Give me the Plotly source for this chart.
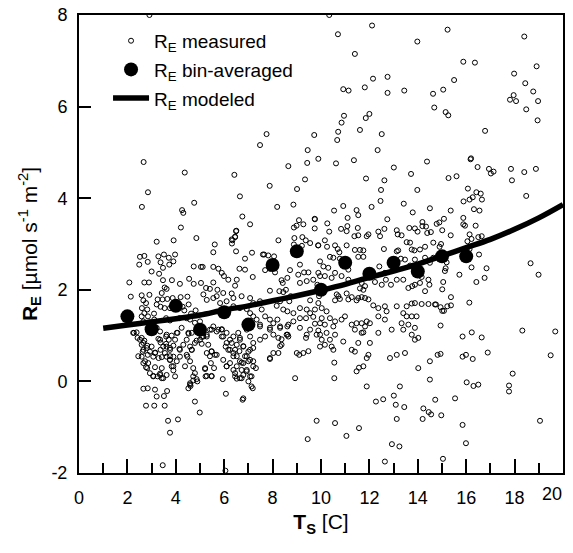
import plotly.graph_objects as go

# ---------------- data ----------------
# measured respiration: (soil temperature [C], R_E [umol s-1 m-2])
meas_top = [
    (10.34, 8.0), (10.70, 7.58), (12.11, 7.77), (15.23, 7.68), (18.40, 7.53), (13.98, 7.42), (11.40, 7.15),
    (15.88, 6.98), (16.36, 6.96), (18.91, 6.88), (17.98, 6.72), (12.15, 6.61), (12.75, 6.65), (15.50, 6.58),
    (18.44, 6.51), (10.92, 6.38), (11.14, 6.35), (11.81, 6.42), (12.75, 6.30), (13.44, 6.35), (14.63, 6.28),
    (15.05, 6.37), (18.77, 6.33), (17.96, 6.25), (17.81, 6.15), (18.06, 6.12), (18.97, 6.12), (14.68, 5.98),
    (15.15, 5.88), (15.26, 5.81), (18.48, 5.94), (18.95, 5.70), (10.95, 5.80), (10.85, 5.65), (12.0, 5.84),
    (11.85, 5.75), (11.61, 5.49), (12.51, 5.40), (10.71, 5.45), (9.72, 5.38), (16.78, 5.47), (2.91, 8.0),
    (7.75, 5.40), (16.2, 4.87), (10.67, 5.27), (10.62, 4.76), (11.36, 4.83), (12.34, 5.05), (13.01, 4.67),
    (14.38, 4.80),
]
meas_upper_left = [
    (7.48, 5.16), (9.45, 5.05), (9.89, 4.86), (9.43, 4.77), (8.65, 4.70), (2.67, 4.79), (4.37, 4.56),
    (6.42, 4.51), (9.34, 4.41), (7.88, 4.27), (9.01, 4.20), (2.85, 4.13), (6.65, 4.04), (2.60, 3.81),
    (4.76, 3.90), (4.26, 3.74), (4.31, 3.68), (8.19, 3.81), (8.86, 3.86), (6.75, 3.60), (4.21, 3.36),
    (7.07, 3.43), (6.50, 3.29), (9.09, 3.52), (9.27, 3.43), (8.99, 3.40), (8.88, 3.36), (9.74, 3.55),
    (9.74, 3.34), (3.21, 3.05), (3.91, 3.08), (4.85, 3.13), (5.61, 2.99), (6.31, 3.10), (6.45, 3.15),
    (6.32, 3.01), (6.49, 2.84), (5.55, 2.82), (8.24, 3.08), (8.90, 3.13), (9.23, 3.15), (9.37, 3.08),
    (9.55, 3.02), (9.88, 2.97), (9.21, 2.96), (8.88, 2.99), (7.15, 2.81), (3.51, 2.77), (3.97, 2.77),
    (7.6, 2.77), (7.65, 2.77), (6.49, 3.28), (6.45, 3.16), (6.34, 3.08),
]
meas_left_dense = [
    (2.52, 2.72), (2.70, 2.74), (2.49, 2.55), (2.84, 2.61), (3.28, 2.73), (3.71, 2.70), (3.37, 2.60),
    (3.90, 2.62), (3.73, 2.55), (3.0, 2.40), (3.31, 2.35), (3.47, 2.48), (4.74, 2.51), (5.04, 2.50),
    (2.08, 2.16), (2.70, 2.16), (2.89, 2.16), (3.47, 2.21), (3.84, 2.21), (4.17, 2.13), (4.55, 2.24),
    (4.74, 2.13), (5.04, 2.15), (3.54, 2.05), (3.62, 2.02), (3.42, 1.93), (2.14, 1.85), (2.59, 1.88),
    (2.91, 1.89), (2.66, 1.77), (2.77, 1.71), (4.20, 1.84), (3.25, 1.79), (3.45, 1.79), (3.65, 1.80),
    (3.87, 1.82), (4.48, 1.85), (3.21, 1.68), (3.37, 1.63), (3.54, 1.60), (3.76, 1.60), (4.04, 1.68),
    (4.28, 1.63), (4.53, 1.68), (4.35, 1.55), (4.82, 1.55), (4.63, 1.48), (4.15, 1.38), (4.45, 1.38),
    (4.59, 1.35), (2.60, 1.60), (2.82, 1.57), (2.70, 1.49), (2.59, 1.42), (2.85, 1.42), (2.66, 1.31),
    (2.93, 1.29), (3.10, 1.48), (3.11, 1.35), (3.60, 1.38), (3.76, 1.33), (2.24, 1.06), (2.38, 1.07),
    (3.60, 0.98), (3.83, 1.00), (4.07, 1.06), (4.53, 1.04), (2.59, 0.95), (2.70, 0.89), (2.59, 0.80),
    (2.82, 0.78), (2.66, 0.69), (2.93, 0.65), (2.59, 0.54), (2.84, 0.58), (3.07, 0.54), (3.28, 0.93),
    (3.37, 0.85), (3.48, 0.76), (3.60, 0.82), (3.71, 0.91), (3.37, 0.69), (3.55, 0.62), (3.76, 0.73),
    (3.90, 0.78), (4.15, 0.71), (4.31, 0.80), (4.59, 0.76), (4.66, 0.69), (4.48, 0.54), (4.17, 0.54),
    (3.90, 0.54), (3.76, 0.47), (3.62, 0.54), (3.42, 0.53), (3.15, 0.63), (2.66, 0.40), (2.86, 0.40),
    (2.77, 0.31), (3.14, 0.31), (3.35, 0.17), (3.25, 0.11), (3.07, 0.12), (3.42, 0.07), (3.62, 0.14),
    (3.83, 0.33), (3.90, 0.24), (3.97, 0.11), (4.59, -0.04), (4.72, 0.02), (4.86, 0.05), (4.79, 1.28),
    (5.0, 1.31), (5.07, 0.97), (4.86, 0.89), (5.07, 0.82), (4.66, 1.06),
]
meas_low_left = [
    (2.66, -0.16), (2.84, -0.15), (3.14, -0.18), (3.21, -0.33), (3.51, -0.32), (3.64, -0.21), (2.77, -0.53),
    (3.11, -0.53), (3.54, -0.53), (3.68, -0.86), (4.09, -0.83), (3.76, -1.12), (3.46, -1.83), (4.52, -0.15),
    (4.61, -0.10), (4.79, -0.44), (4.99, -0.68), (6.76, -0.40), (6.05, -1.95),
    (5.23, 0.11), (5.48, 0.11), (5.58, 0.29), (5.45, 0.40), (5.21, 0.27), (5.28, 0.62), (5.48, 0.65),
    (5.69, 0.58), (5.96, 0.47), (6.10, 0.33), (6.24, 0.40), (6.38, 0.25), (6.45, 0.18), (6.52, 0.06),
    (6.65, 0.07), (6.79, 0.14), (6.93, 0.25), (7.13, 0.11), (7.18, -0.15), (7.0, 0.0), (7.07, 0.47),
    (7.20, 0.44), (7.31, 0.29), (6.72, 0.41), (6.52, 0.55), (6.38, 0.62), (6.17, 0.69), (6.06, 0.76),
    (6.31, 0.84), (6.65, 0.95), (6.79, 0.76), (7.0, 0.65), (7.20, 0.73), (7.48, 0.91), (7.69, 0.98),
    (7.89, 1.17), (8.03, 1.02), (8.31, 1.20), (8.24, 0.95), (8.37, 0.80), (8.03, 0.62), (7.89, 0.49),
    (8.62, 1.02), (8.65, 1.24), (7.48, 1.20), (4.72, 0.11), (4.79, 0.18), (4.72, 0.29), (4.89, 0.0),
    (4.59, -0.07), (4.38, 0.33), (4.59, 0.44), (4.45, 0.58), (4.66, 0.69), (4.79, 0.84), (4.45, 0.91),
    (4.52, 1.06), (4.17, 0.69), (4.04, 0.44), (3.90, 0.33), (3.76, 0.55), (3.76, 0.69), (3.97, 0.91),
    (4.04, 1.06), (4.24, 1.17), (5.0, 0.91), (5.14, 1.06), (5.28, 1.02), (5.48, 1.13), (5.69, 1.09),
    (5.90, 0.98), (5.90, 1.14), (6.10, 1.06), (6.24, 0.91), (2.45, 0.55), (2.63, 0.65), (2.80, 0.73),
    (2.66, 0.84), (2.52, 0.91), (2.27, 1.06), (2.42, 0.95), (2.73, 0.44), (2.82, 0.29), (2.93, 0.18),
    (3.07, 0.11), (3.35, 0.14), (3.48, 0.07), (3.42, 0.29), (3.76, 0.47), (3.29, 0.51), (3.14, 0.62),
    (3.0, 0.76), (3.35, 0.91), (3.62, 0.76), (3.62, 1.02), (3.35, 1.09), (3.21, 1.17),
]
meas_mid = [
    (6.86, 2.68), (7.82, 2.75), (8.06, 2.73), (7.69, 2.43), (8.10, 2.38), (7.89, 2.46), (8.72, 2.43),
    (8.61, 2.26), (8.37, 2.21), (8.42, 2.15), (9.13, 2.55), (9.06, 2.33), (9.30, 2.38), (9.48, 2.38),
    (9.41, 2.19), (9.13, 2.15), (9.68, 2.22), (9.85, 2.11), (9.96, 2.30), (5.11, 2.50), (5.55, 2.50),
    (5.76, 2.46), (5.90, 2.37), (5.99, 2.30), (5.55, 2.16), (6.17, 2.22), (6.52, 2.22), (6.45, 2.09),
    (6.63, 2.46), (6.86, 2.44), (7.18, 2.28), (7.89, 1.98), (8.28, 1.97), (8.44, 1.95), (8.55, 2.0),
    (8.75, 1.86), (8.69, 1.75), (8.31, 1.75), (8.17, 1.65), (8.44, 1.57), (8.61, 1.53), (8.86, 1.49),
    (9.13, 1.60), (9.41, 1.57), (9.55, 1.49), (9.75, 1.57), (9.68, 1.41), (9.38, 1.38), (9.13, 1.38),
    (9.55, 1.77), (9.75, 1.26), (9.89, 1.11), (9.82, 1.02), (9.55, 1.13), (9.13, 1.17), (8.61, 1.20),
    (8.31, 1.17), (7.89, 1.13), (7.48, 1.24), (7.34, 1.35), (7.20, 1.42), (7.07, 1.49), (6.93, 1.58),
    (6.65, 1.60), (6.38, 1.64), (6.10, 1.75), (5.83, 1.71), (5.69, 1.86), (5.55, 1.82), (5.28, 1.78),
    (5.14, 1.90), (5.25, 2.04), (5.41, 2.02), (5.72, 2.0), (5.96, 1.93), (6.31, 1.92), (6.38, 1.82),
    (6.72, 1.86), (7.07, 1.82), (7.20, 1.71), (7.48, 1.75), (7.55, 1.57), (7.69, 1.42), (7.89, 1.35),
    (8.03, 1.27), (8.20, 1.35), (8.86, 1.31), (8.65, 0.98), (8.37, 0.92), (8.31, 0.77), (8.24, 0.62),
    (7.89, 0.51), (9.41, 1.02), (9.38, 0.95), (9.10, 0.58), (9.27, 0.62), (9.48, 0.66), (8.93, 0.07),
    (6.93, 1.13), (7.07, 0.98), (7.20, 0.84), (7.07, 0.69), (6.93, 0.55), (6.79, 0.40), (6.72, 0.25),
    (6.93, 0.22), (7.07, 0.11), (6.72, 0.07), (6.52, 0.33), (6.38, 0.55), (6.24, 0.69), (6.10, 0.84),
    (5.96, 0.98), (5.90, 1.13), (5.76, 1.13), (5.55, 1.20), (5.41, 1.13), (5.28, 0.98), (5.14, 0.98),
    (5.07, 1.13), (5.34, 0.80), (5.48, 0.66), (5.62, 0.58), (5.41, 0.55), (5.21, 0.29), (5.28, 0.12),
    (5.48, 0.12), (5.94, 0.05), (6.10, 0.33), (6.45, 0.11), (6.07, -0.27), (6.79, -0.37), (7.13, -0.11),
    (6.38, 0.98), (6.58, 1.06), (6.65, 0.91), (6.52, 0.80), (6.79, 0.77), (6.63, 0.66), (6.45, 0.69),
    (6.86, 0.55), (6.65, 0.44), (7.0, 0.44), (7.20, 0.33),
]
meas_center = [
    (11.86, 4.43), (12.62, 4.39), (13.72, 4.53), (12.48, 4.18), (13.98, 4.18), (12.46, 3.94), (13.42, 3.88),
    (12.09, 3.81), (10.92, 3.83), (10.54, 3.73), (11.47, 3.74), (11.54, 3.63), (11.10, 3.57), (12.74, 3.54),
    (13.79, 3.69), (14.50, 3.78), (9.75, 3.54), (10.26, 3.45), (10.83, 3.33), (11.09, 3.39), (11.52, 3.35),
    (11.06, 3.28), (10.34, 3.27), (11.38, 3.17), (11.54, 3.19), (11.89, 3.17), (11.96, 3.21), (12.37, 3.27),
    (12.44, 3.17), (12.62, 3.33), (13.13, 3.30), (13.17, 3.21), (13.33, 3.19), (13.65, 3.35), (13.88, 3.34),
    (13.99, 3.27), (14.19, 3.48), (14.19, 3.39), (14.34, 3.38), (14.39, 3.24), (14.54, 3.26), (14.78, 3.44),
    (10.16, 3.08), (9.89, 2.97), (10.25, 2.94), (10.58, 2.97), (10.69, 2.89), (10.76, 2.82), (11.06, 2.97),
    (11.40, 2.87), (11.61, 2.87), (11.75, 2.86), (12.60, 2.89), (13.13, 2.84), (13.19, 2.86), (13.54, 3.04),
    (13.68, 3.03), (13.75, 2.88), (13.86, 2.86), (14.09, 2.88), (14.30, 2.94), (14.64, 3.03), (10.37, 2.72),
    (10.51, 2.70), (10.78, 2.68), (9.96, 2.62), (10.10, 2.51), (10.30, 2.48), (9.89, 2.37), (10.16, 2.30),
    (10.44, 2.26), (10.58, 2.37), (10.85, 2.30), (11.13, 2.44), (11.13, 2.22), (11.54, 2.72), (11.75, 2.72),
    (12.41, 2.51), (12.64, 2.37), (12.68, 2.22), (13.06, 2.44), (13.30, 2.68), (13.47, 2.66), (13.68, 2.53),
    (13.88, 2.66), (14.30, 2.70), (14.50, 2.59), (14.64, 2.70), (11.96, 2.30), (11.68, 2.15), (11.82, 2.08),
    (11.75, 2.00), (11.61, 2.03), (12.23, 2.17), (12.51, 2.11), (12.89, 2.11), (13.13, 2.22), (13.40, 2.22),
    (13.61, 2.04), (13.77, 2.08), (13.88, 2.11), (14.16, 2.28), (14.44, 2.22), (14.48, 2.11), (14.30, 1.97),
    (14.09, 2.15), (9.92, 1.86), (10.65, 1.90), (10.72, 1.86), (10.78, 1.80), (10.58, 1.77), (11.06, 1.92),
    (11.13, 1.79), (11.27, 1.84), (11.47, 1.77), (11.54, 1.82), (11.68, 1.84), (11.82, 1.82), (11.96, 1.79),
    (12.16, 1.66), (12.37, 1.60), (12.64, 1.64), (13.13, 1.64), (13.54, 1.64), (13.75, 1.70), (13.88, 1.71),
    (14.16, 1.69), (14.44, 1.69), (14.71, 1.68), (9.89, 1.71), (10.03, 1.60), (10.23, 1.53), (10.37, 1.38),
    (10.03, 1.38), (9.96, 1.27), (10.16, 1.24), (10.58, 1.31), (10.51, 1.20), (10.99, 1.42), (10.85, 1.35),
    (11.27, 1.24), (11.47, 1.27), (11.68, 1.27), (11.82, 1.20), (11.89, 1.31), (12.02, 1.27), (11.40, 1.13),
    (11.68, 1.06), (11.75, 1.07), (12.37, 1.42), (12.71, 1.53), (12.64, 1.35), (13.40, 1.49), (13.54, 1.42),
    (13.75, 1.42), (13.95, 1.42), (13.33, 1.27), (13.61, 1.24), (13.88, 1.17), (13.75, 1.02), (13.88, 0.91),
    (14.02, 0.95), (13.40, 1.13), (12.92, 1.13), (12.37, 1.06), (12.02, 0.84), (11.54, 0.84), (11.27, 0.69),
    (11.40, 0.65), (10.92, 0.87), (10.44, 0.76), (10.37, 0.91), (10.58, 1.02), (10.23, 1.06), (9.96, 1.02),
    (10.03, 0.91), (9.96, 0.76), (10.16, 0.80), (10.51, 0.69), (13.47, 0.62), (13.13, 0.58), (12.85, 0.51),
    (11.96, 0.58), (11.89, 0.51), (11.75, 0.33), (11.47, 0.22), (14.50, 0.44), (14.02, 0.29), (10.55, 0.41),
    (10.55, 0.07), (11.89, -0.11), (13.26, -0.11), (13.01, -0.31), (12.57, -0.39), (14.50, 0.04), (14.82, 0.58),
]
meas_low_right = [
    (9.45, -1.26), (9.82, -0.86), (10.58, -0.91), (11.05, -1.19), (11.57, -1.02), (11.57, 0.30), (12.27, -0.44),
    (12.64, -1.75), (12.93, -1.37), (13.24, -1.42), (13.09, -0.51), (13.44, -0.56), (13.13, -0.82),
    (14.23, -0.59), (14.20, -0.82), (14.45, -0.67), (14.55, -0.72), (14.97, -0.74), (14.72, -0.40),
    (15.04, -1.69), (14.94, 0.60), (15.54, -0.37), (15.85, 0.98), (16.23, 1.07), (16.64, 0.96), (15.85, 0.54),
    (15.99, 0.58), (16.27, 0.49), (16.89, 0.63), (16.02, -0.02), (16.30, -0.10), (16.50, -0.07), (15.85, -0.95),
    (15.99, -1.35), (17.92, 0.17), (17.77, -0.09), (17.77, -0.22), (18.32, 1.11), (19.05, -0.86), (19.49, 0.57),
    (19.68, 1.09), (8.58, 1.02), (9.0, 0.62), (14.94, 1.22),
]
meas_right = [
    (16.18, 4.85), (16.47, 4.68), (16.94, 4.64), (17.02, 4.54), (17.13, 4.58), (17.85, 4.64), (17.89, 4.39),
    (18.40, 4.57), (18.88, 4.64), (15.27, 4.44), (15.60, 4.48), (16.07, 4.21), (16.42, 4.13), (16.60, 4.10),
    (16.65, 3.97), (16.27, 4.02), (16.14, 3.97), (15.89, 3.93), (18.48, 4.05), (15.36, 3.73), (16.32, 3.76),
    (16.55, 3.73), (15.08, 3.55), (14.89, 3.47), (15.88, 3.57), (15.88, 3.43), (15.95, 3.40), (16.39, 3.40),
    (15.01, 3.30), (15.36, 3.19), (16.14, 3.21), (16.50, 3.15), (16.64, 3.17), (16.22, 3.11), (16.05, 3.06),
    (14.96, 3.00), (14.90, 2.94), (16.05, 2.92), (16.14, 2.89), (16.53, 2.77), (15.19, 2.60), (15.15, 2.47),
    (15.12, 2.41), (16.22, 2.49), (16.84, 2.47), (16.76, 2.26), (16.42, 2.17), (15.72, 2.33), (18.66, 2.58),
    (18.99, 2.33), (15.05, 2.17), (15.01, 2.01), (15.37, 1.84), (14.75, 1.68), (14.94, 1.62), (15.01, 1.54),
    (15.08, 1.54), (15.22, 1.64), (15.37, 1.66), (16.13, 1.72),
]

# bin-averaged values
bin_T = [2, 3, 4, 5, 6, 7, 8, 9, 10, 11, 12, 13, 14, 15, 16]
bin_R = [1.42, 1.14, 1.65, 1.13, 1.51, 1.24, 2.54, 2.84, 2.00, 2.59, 2.35, 2.59, 2.40, 2.73, 2.73]

# modeled curve
model_T = [1, 2, 3, 4, 5, 6, 7, 8, 9, 10, 11, 12, 13, 14, 15, 16, 17, 18, 19, 20]
model_R = [1.16, 1.23, 1.30, 1.37, 1.45, 1.56, 1.65, 1.76, 1.87, 1.99, 2.12, 2.27, 2.41, 2.56, 2.74,
           2.92, 3.10, 3.32, 3.57, 3.86]

# axis ticks
x_ticks = [0, 2, 4, 6, 8, 10, 12, 14, 16, 18, 20]
x_ticktext = ["0", "2", "4", "6", "8", "10", "12", "14", "16", "18", ""]
x_last_label = "20"
y_ticks = [-2, 0, 2, 4, 6, 8]
y_ticktext = ["-2", "0", "2", "4", "6", "8"]

# ---------------- figure ----------------
measured = (meas_top + meas_upper_left + meas_left_dense + meas_low_left + meas_mid
            + meas_center + meas_low_right + meas_right)
meas_T = [p[0] for p in measured]
meas_R = [p[1] for p in measured]

FONT = "Arial, 'Liberation Sans', Helvetica, sans-serif"

fig = go.Figure()
fig.add_trace(go.Scatter(
    x=meas_T, y=meas_R, mode="markers", name="R<sub>E</sub> measured",
    legendgroup="a", legendrank=1,
    marker=dict(symbol="circle-open", size=5, color="black", line=dict(width=1, color="black")),
))
fig.add_trace(go.Scatter(
    x=model_T, y=model_R, mode="lines", name="R<sub>E</sub> modeled",
    legendgroup="c", legendrank=3, line=dict(color="black", width=5.5, shape="spline"),
))
fig.add_trace(go.Scatter(
    x=bin_T, y=bin_R, mode="markers", name="R<sub>E</sub> bin-averaged",
    legendgroup="b", legendrank=2,
    marker=dict(symbol="circle", size=14, color="black"),
))

axis_common = dict(
    showline=True, linecolor="black", linewidth=2, mirror=True, automargin=False,
    showgrid=False, zeroline=False, ticks="inside", tickcolor="black",
    tickwidth=1.5, tickfont=dict(family=FONT, size=18, color="black"),
)
fig.update_xaxes(
    range=[0, 20], tickvals=x_ticks, ticktext=x_ticktext, ticklen=14, ticklabelstandoff=7,
    minor=dict(ticks="inside", ticklen=10, tickwidth=1.5, tickcolor="black", tick0=0, dtick=1),
    title=dict(text="<b>T<sub>S</sub></b> [C]", font=dict(family=FONT, size=21, color="black"), standoff=8),
    **axis_common,
)
fig.update_yaxes(
    range=[-2, 8], tickvals=y_ticks, ticktext=y_ticktext, ticklen=12, ticklabelstandoff=6,
    title=dict(text="<b>R<sub>E</sub></b> [µmol s<sup>-1</sup> m<sup>-2</sup>]",
               font=dict(family=FONT, size=21, color="black"), standoff=8),
    **axis_common,
)
fig.add_annotation(
    x=20, y=0, xref="x", yref="paper", text=x_last_label, showarrow=False,
    xanchor="right", yanchor="top", yshift=-9, xshift=1,
    font=dict(family=FONT, size=18, color="black"),
)
fig.update_layout(
    width=573, height=553,
    margin=dict(l=79, r=10, t=15, b=80),
    plot_bgcolor="white", paper_bgcolor="white",
    font=dict(family=FONT, color="black"),
    legend=dict(
        x=0.06, y=0.985, xanchor="left", yanchor="top",
        bgcolor="rgba(0,0,0,0)", font=dict(family=FONT, size=19, color="black"),
        tracegroupgap=1, itemwidth=36,
    ),
    showlegend=True,
)

fig.write_html(
    "out.html",
    config={"displayModeBar": False},
    post_script="document.body.style.margin='0';document.body.style.overflow='hidden';",
)
